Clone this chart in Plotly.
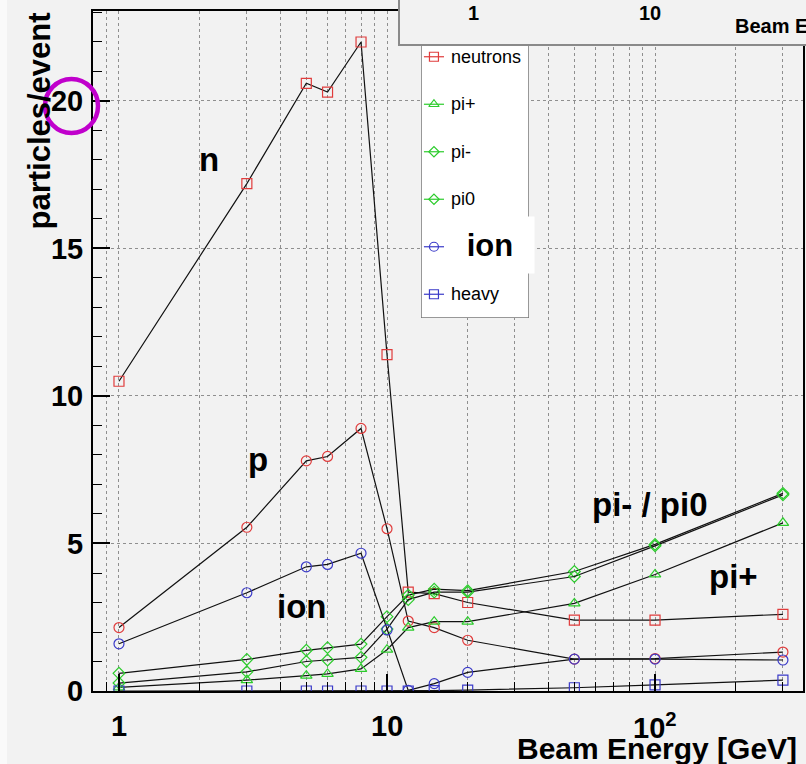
import math
import plotly.graph_objects as go

# ---------------- data ----------------
energy = [1, 3, 5, 6, 8, 10, 12, 15, 20, 50, 100, 300]
neutrons = [10.5, 17.2, 20.6, 20.3, 22.0, 11.4, 3.35, 3.3, 3.0, 2.4, 2.4, 2.6]
protons = [2.15, 5.55, 7.8, 7.95, 8.9, 5.5, 2.37, 2.15, 1.72, 1.08, 1.1, 1.32]
pi_plus = [0.12, 0.37, 0.52, 0.58, 0.75, 1.4, 2.15, 2.35, 2.35, 2.97, 3.95, 5.7]
pi_minus = [0.6, 1.07, 1.38, 1.47, 1.59, 2.52, 3.25, 3.45, 3.4, 4.05, 4.97, 6.7]
pi_zero = [0.27, 0.65, 1.0, 1.05, 1.14, 2.1, 3.1, 3.35, 3.35, 3.88, 4.92, 6.65]
ions = [1.6, 3.33, 4.21, 4.29, 4.67, 2.07, 0.02, 0.25, 0.63, 1.08, 1.08, 1.05]
heavy = [0.0, 0.0, 0.0, 0.0, 0.0, 0.0, 0.0, 0.01, 0.03, 0.11, 0.21, 0.37]

legend_labels = ["neutrons", "pi+", "pi-", "pi0", "ion", "heavy"]
y_tick_vals = [0, 5, 10, 15, 20]
x_tick_vals = [1, 10, 100]
x_tick_text = ["1", "10", "10<sup>2</sup>"]
strip_tick_text = ["1", "10"]

# ---------------- geometry / style ----------------
W, H = 806, 764
L, R, T, B = 93, 3, 11, 73
PW, PH = W - L - R, H - T - B


def px(x):
    return (x - L) / PW


def py(y):
    return (H - B - y) / PH


FONT = "Liberation Sans, Arial, Helvetica, sans-serif"
RED = "#e03c3c"
GREEN = "#2ccc2c"
BLUE = "#3a3ac8"
BG = "#f2f2f2"
GRID = "#8f8f8f"

styles = {
    "neutrons": ("square-open", RED, 10),
    "protons": ("circle-open", RED, 10),
    "pi+": ("triangle-up-open", GREEN, 10),
    "pi-": ("diamond-open", GREEN, 9),
    "pi0": ("diamond-open", GREEN, 9),
    "ion": ("circle-open", BLUE, 10),
    "heavy": ("square-open", BLUE, 10),
}
series = [
    ("neutrons", neutrons),
    ("protons", protons),
    ("pi+", pi_plus),
    ("pi-", pi_minus),
    ("pi0", pi_zero),
    ("ion", ions),
    ("heavy", heavy),
]

fig = go.Figure()
for name, vals in series:
    sym, col, size = styles[name]
    fig.add_trace(go.Scatter(
        x=energy, y=vals, mode="lines+markers", name=name, showlegend=False,
        line=dict(color="#111111", width=1.2),
        marker=dict(symbol=sym, color=col, size=size, line=dict(color=col, width=1.2)),
    ))

# manual legend (drawn on its own invisible axes)
LEG_L, LEG_R, LEG_T, LEG_B = 421, 529, 33, 318
for lab in legend_labels:
    sym, col, size = styles[lab]
    fig.add_trace(go.Scatter(
        x=[0.12], y=[lab], xaxis="x2", yaxis="y2", mode="markers", showlegend=False,
        marker=dict(symbol=sym, color=col, size=size - 1, line=dict(color=col, width=1.2)),
        error_x=dict(type="constant", value=0.093, width=0, color=col, thickness=1.2),
    ))

minor_x = [m * 10 ** d for d in range(-1, 3) for m in range(2, 10)]
minor_x = [v for v in minor_x if 0.8 <= v <= 356]

fig.update_layout(
    width=W, height=H,
    margin=dict(l=L, r=R, t=T, b=B, pad=0),
    paper_bgcolor=BG, plot_bgcolor=BG,
    font=dict(family=FONT, color="black"),
    showlegend=False,
    xaxis=dict(
        type="log", range=[math.log10(0.8), 2.552],
        tickmode="array", tickvals=x_tick_vals, showticklabels=False,
        ticks="inside", ticklen=17, tickwidth=1.5, tickcolor="black",
        showline=True, linecolor="black", linewidth=2, mirror=True,
        showgrid=True, gridcolor=GRID, gridwidth=1, griddash="dot",
        zeroline=False, automargin=False,
        minor=dict(tickmode="array", tickvals=minor_x, ticks="inside", ticklen=9,
                   tickwidth=1, tickcolor="black", showgrid=True, gridcolor=GRID,
                   gridwidth=1, griddash="dot"),
    ),
    yaxis=dict(
        range=[0, 23.05],
        tickmode="array", tickvals=y_tick_vals,
        ticks="inside", ticklen=17, tickwidth=1.5, tickcolor="black",
        tickfont=dict(size=29, family=FONT, weight="bold"),
        ticklabelstandoff=2,
        showline=True, linecolor="black", linewidth=2, mirror=True,
        showgrid=True, gridcolor=GRID, gridwidth=1, griddash="dot",
        zeroline=False, automargin=False,
        minor=dict(dtick=1, ticks="inside", ticklen=9, tickwidth=1, tickcolor="black",
                   showgrid=False),
    ),
    xaxis2=dict(domain=[px(LEG_L), px(LEG_R)], range=[0, 1], anchor="y2",
                visible=False, fixedrange=True),
    yaxis2=dict(domain=[py(LEG_B), py(LEG_T)], type="category",
                categoryorder="array", categoryarray=list(reversed(legend_labels)),
                range=[-0.5, len(legend_labels) - 0.5], anchor="x2",
                visible=False, fixedrange=True),
)

shapes = []
# legend box
shapes.append(dict(type="rect", xref="x2", yref="y2", x0=0, x1=1,
                   y0=-0.5, y1=len(legend_labels) - 0.5, layer="below",
                   fillcolor="white", line=dict(color="#777777", width=1.5)))
# pasted strip at the top right
shapes.append(dict(type="rect", xref="paper", yref="paper", x0=px(399), x1=px(840),
                   y0=py(45), y1=py(-20), layer="above",
                   fillcolor=BG, line=dict(color="#8a8a8a", width=2)))
# light stripe at the left edge
shapes.append(dict(type="rect", xref="paper", yref="paper", x0=px(0), x1=px(7),
                   y0=py(H), y1=py(0), layer="above",
                   fillcolor="#fafafa", line=dict(width=0)))
# magenta circle around the "20" label
shapes.append(dict(type="circle", xref="paper", yref="paper", x0=px(45), x1=px(98),
                   y0=py(133), y1=py(79), layer="above",
                   fillcolor="rgba(0,0,0,0)", line=dict(color="#c000cc", width=4.5)))
fig.update_layout(shapes=shapes)

ann = []
# x tick labels (placed on the x scale)
for val, txt in zip(x_tick_vals, x_tick_text):
    ann.append(dict(xref="x", yref="paper", x=math.log10(val), y=py(726),
                    text="<b>%s</b>" % txt, showarrow=False,
                    xanchor="center", yanchor="middle",
                    font=dict(size=29, family=FONT, color="black")))
# legend text (the "ion" entry is hidden under the pasted label)
for lab in legend_labels:
    if lab == "ion":
        continue
    ann.append(dict(xref="x2", yref="y2", x=0.26, y=lab, text=lab, showarrow=False,
                    xanchor="left", yanchor="middle",
                    font=dict(size=18, family=FONT, color="black")))
# big labels in the plot
big = [("n", 209, 159), ("p", 258, 459), ("ion", 301, 606),
       ("pi- / pi0", 650, 504), ("pi+", 733, 576)]
for txt, x, y in big:
    ann.append(dict(xref="paper", yref="paper", x=px(x), y=py(y), text="<b>%s</b>" % txt,
                    showarrow=False, xanchor="center", yanchor="middle",
                    font=dict(size=33, family=FONT, color="black")))
# "ion" overlay on the legend
ann.append(dict(xref="paper", yref="paper", x=px(490), y=py(245), text="<b>ion</b>",
                showarrow=False, xanchor="center", yanchor="middle",
                width=88, height=56, bgcolor="white", borderpad=0,
                font=dict(size=31, family=FONT, color="black")))
# strip texts
for txt, x in zip(strip_tick_text, [474, 650]):
    ann.append(dict(xref="paper", yref="paper", x=px(x), y=py(13), text="<b>%s</b>" % txt,
                    showarrow=False, xanchor="center", yanchor="middle",
                    font=dict(size=20, family=FONT, color="black")))
ann.append(dict(xref="paper", yref="paper", x=px(733), y=py(26),
                text="<b>Beam Energy [GeV]</b>", showarrow=False,
                xanchor="left", yanchor="middle",
                font=dict(size=20, family=FONT, color="black")))
# axis titles
ann.append(dict(xref="paper", yref="paper", x=px(799), y=py(748),
                text="<b>Beam Energy [GeV]</b>", showarrow=False,
                xanchor="right", yanchor="middle",
                font=dict(size=30, family=FONT, color="black")))
ann.append(dict(xref="paper", yref="paper", x=px(39), y=py(11),
                text="<b>particles/event</b>", showarrow=False, textangle=-90,
                xanchor="center", yanchor="top",
                font=dict(size=31, family=FONT, color="black")))
fig.update_layout(annotations=ann)

fig.write_html("out.html",
               config={"displayModeBar": False},
               post_script="document.body.style.margin='0';document.body.style.overflow='hidden';")
